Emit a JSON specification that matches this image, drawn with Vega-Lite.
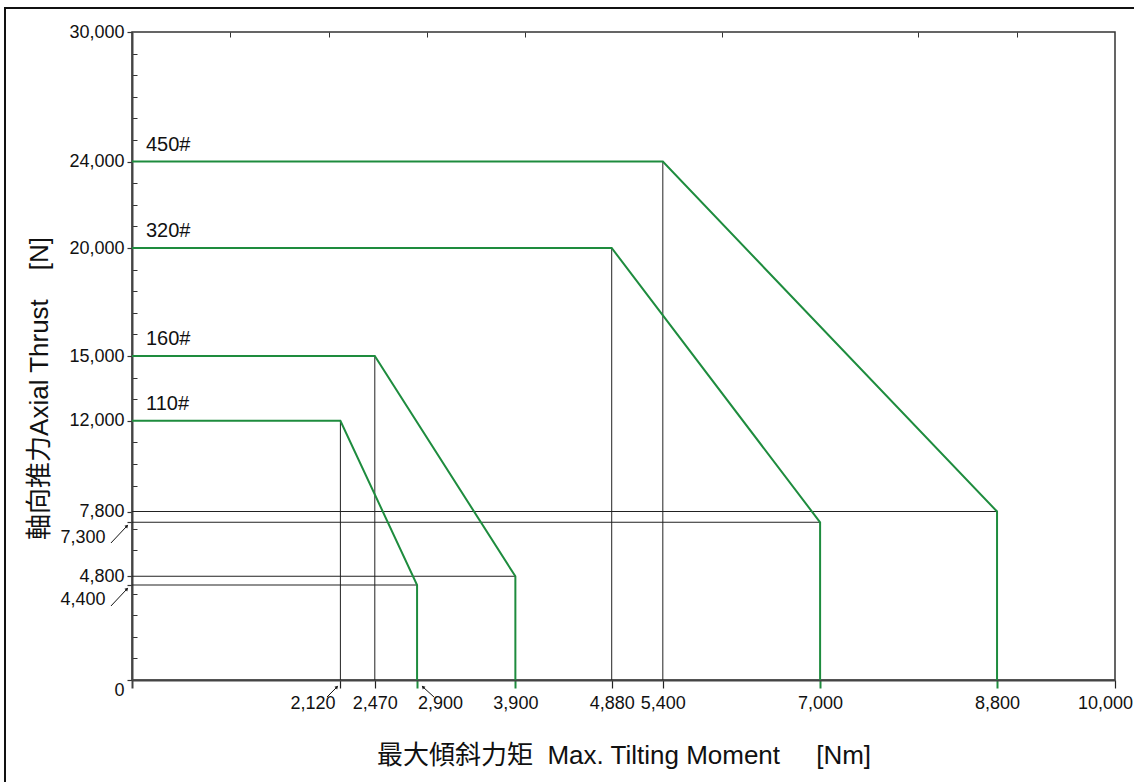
{
  "$schema": "https://vega.github.io/schema/vega-lite/v6.json",
  "width": 983,
  "height": 648,
  "autosize": {"type": "none"},
  "padding": {"left": 132, "top": 32, "right": 19, "bottom": 102},
  "background": "white",
  "config": {"view": {"stroke": "#333", "strokeWidth": 1.5}, "font": "Liberation Sans"},
  "datasets": {
    "curve": [
      {"series": "110#", "ord": 1, "moment": 0, "thrust": 12000},
      {"series": "110#", "ord": 2, "moment": 2120, "thrust": 12000},
      {"series": "110#", "ord": 3, "moment": 2900, "thrust": 4400},
      {"series": "110#", "ord": 4, "moment": 2900, "thrust": 0},
      {"series": "160#", "ord": 1, "moment": 0, "thrust": 15000},
      {"series": "160#", "ord": 2, "moment": 2470, "thrust": 15000},
      {"series": "160#", "ord": 3, "moment": 3900, "thrust": 4800},
      {"series": "160#", "ord": 4, "moment": 3900, "thrust": 0},
      {"series": "320#", "ord": 1, "moment": 0, "thrust": 20000},
      {"series": "320#", "ord": 2, "moment": 4880, "thrust": 20000},
      {"series": "320#", "ord": 3, "moment": 7000, "thrust": 7300},
      {"series": "320#", "ord": 4, "moment": 7000, "thrust": 0},
      {"series": "450#", "ord": 1, "moment": 0, "thrust": 24000},
      {"series": "450#", "ord": 2, "moment": 5400, "thrust": 24000},
      {"series": "450#", "ord": 3, "moment": 8800, "thrust": 7800},
      {"series": "450#", "ord": 4, "moment": 8800, "thrust": 0}
    ],
    "arrows": [
      {"label": "7,300", "moment": -51, "thrust": 7130, "moment2": -214, "thrust2": 6343, "angle": 45},
      {"label": "4,400", "moment": -51, "thrust": 4213, "moment2": -214, "thrust2": 3426, "angle": 45},
      {"label": "2,120", "moment": 2085, "thrust": -324, "moment2": 1984, "thrust2": -787, "angle": 45},
      {"label": "2,900", "moment": 2960, "thrust": -324, "moment2": 3072, "thrust2": -787, "angle": -45}
    ],
    "frame": [
      {"moment": -1292, "moment2": 11500, "thrust": 31110, "thrust2": -6000}
    ]
  },
  "encoding": {
    "x": {"field": "moment", "type": "quantitative", "scale": {"domain": [0, 10000], "nice": false, "zero": false, "padding": 0},
      "axis": {
        "values": [0, 1000, 2000, 2120, 2470, 2900, 3000, 3900, 4000, 4880, 5400, 6000, 7000, 8000, 8800, 9000, 10000],
        "domain": true, "domainColor": "#444", "domainWidth": 2,
        "grid": true,
        "gridColor": "#333",
        "gridWidth": 1,
        "gridDash": [5, 3000],
        "gridOpacity": {"condition": {"test": "indexof([1000, 2000, 3000, 4000, 6000, 8000, 9000], datum.value) >= 0", "value": 1}, "value": 0},
        "tickSize": 8,
        "tickOpacity": {"condition": {"test": "indexof([1000, 2000, 3000, 4000, 6000, 8000, 9000], datum.value) >= 0", "value": 0}, "value": 1},
        "tickColor": {"condition": [{"test": "indexof([2900, 3900, 7000, 8800], datum.value) >= 0", "value": "#1e8c3e"}, {"test": "datum.value == 0", "value": "#444"}], "value": "#222"},
        "tickWidth": {"condition": {"test": "indexof([0, 2900, 3900, 7000, 8800], datum.value) >= 0", "value": 2}, "value": 1.2},
        "labelExpr": "indexof([0, 1000, 2000, 3000, 4000, 6000, 8000, 9000], datum.value) >= 0 ? '' : format(datum.value, ',')",
        "labelFont": "Liberation Sans", "labelFontSize": 18, "labelColor": "#111",
        "labelPadding": 6, "labelOverlap": false, "labelFlush": false,
        "labelOffset": {"condition": [{"test": "datum.value == 2120", "value": -28}, {"test": "datum.value == 2900", "value": 23}, {"test": "datum.value == 10000", "value": -10}], "value": 0},
        "title": "最大傾斜力矩\u00a0\u00a0Max. Tilting Moment\u00a0\u00a0\u00a0\u00a0\u00a0[Nm]",
        "titleFont": "Liberation Sans, Noto Sans CJK TC", "titleFontSize": 26, "titleFontWeight": "normal", "titleColor": "#111",
        "titleY": 62
      }},
    "y": {"field": "thrust", "type": "quantitative", "scale": {"domain": [0, 30000], "nice": false, "zero": false, "padding": 0},
      "axis": {
        "values": [0, 1000, 2000, 3000, 4000, 4400, 4800, 6000, 7000, 7300, 7800, 9000, 10000, 11000, 12000, 13000, 14000, 15000, 16000, 17000, 18000, 19000, 20000, 21000, 22000, 23000, 24000, 25000, 26000, 27000, 28000, 29000, 30000],
        "domain": true, "domainColor": "#444", "domainWidth": 2,
        "grid": true,
        "gridColor": "#333",
        "gridWidth": 1,
        "gridDash": [5, 3000],
        "gridOpacity": {"condition": {"test": "indexof([0, 4400, 4800, 7300, 7800, 12000, 15000, 20000, 24000, 30000], datum.value) < 0", "value": 1}, "value": 0},
        "tickSize": 5,
        "tickOpacity": {"condition": {"test": "indexof([0, 4400, 4800, 7300, 7800, 12000, 15000, 20000, 24000, 30000], datum.value) < 0", "value": 0}, "value": 1},
        "tickColor": "#333", "tickWidth": 1.2,
        "labelExpr": "indexof([0, 4400, 4800, 7300, 7800, 12000, 15000, 20000, 24000, 30000], datum.value) < 0 ? '' : format(datum.value, ',')",
        "labelFont": "Liberation Sans", "labelFontSize": 18, "labelColor": "#111",
        "labelOverlap": false, "labelFlush": false,
        "labelPadding": {"condition": {"test": "datum.value == 7300 || datum.value == 4400", "value": 22}, "value": 3},
        "labelOffset": {"condition": [{"test": "datum.value == 7300 || datum.value == 4400", "value": 15}, {"test": "datum.value == 0", "value": 10}], "value": 0},
        "title": "軸向推力Axial Thrust\u00a0\u00a0\u00a0\u00a0[N]",
        "titleFont": "Liberation Sans, Noto Sans CJK TC", "titleFontSize": 26, "titleFontWeight": "normal", "titleColor": "#111",
        "titleX": -80, "titleY": 356
      }}
  },
  "layer": [
    {
      "data": {"name": "frame"},
      "mark": {"type": "rect", "filled": false, "stroke": "#111", "strokeWidth": 2},
      "encoding": {
        "x2": {"field": "moment2"},
        "y2": {"field": "thrust2"}
      }
    },
    {
      "data": {"name": "curve"},
      "transform": [{"filter": "datum.ord == 2"}],
      "mark": {"type": "bar", "orient": "vertical", "color": "#222", "size": 1}
    },
    {
      "data": {"name": "curve"},
      "transform": [{"filter": "datum.ord == 3"}],
      "mark": {"type": "bar", "orient": "horizontal", "color": "#222", "size": 1}
    },
    {
      "data": {"name": "curve"},
      "mark": {"type": "line", "color": "#1e8c3e", "strokeWidth": 2},
      "encoding": {
        "detail": {"field": "series"},
        "order": {"field": "ord", "type": "quantitative"}
      }
    },
    {
      "data": {"name": "curve"},
      "transform": [{"filter": "datum.ord == 1"}],
      "mark": {"type": "text", "font": "Liberation Sans", "fontSize": 20, "color": "#111", "align": "left", "baseline": "middle", "dx": 14, "dy": -17},
      "encoding": {
        "text": {"field": "series"}
      }
    },
    {
      "data": {"name": "arrows"},
      "mark": {"type": "rule", "color": "#111", "strokeWidth": 1},
      "encoding": {
        "x2": {"field": "moment2"},
        "y2": {"field": "thrust2"}
      }
    },
    {
      "data": {"name": "arrows"},
      "mark": {"type": "point", "shape": "triangle-up", "filled": true, "color": "#111", "size": 14, "opacity": 1},
      "encoding": {
        "angle": {"field": "angle", "type": "quantitative", "scale": null}
      }
    }
  ]
}
